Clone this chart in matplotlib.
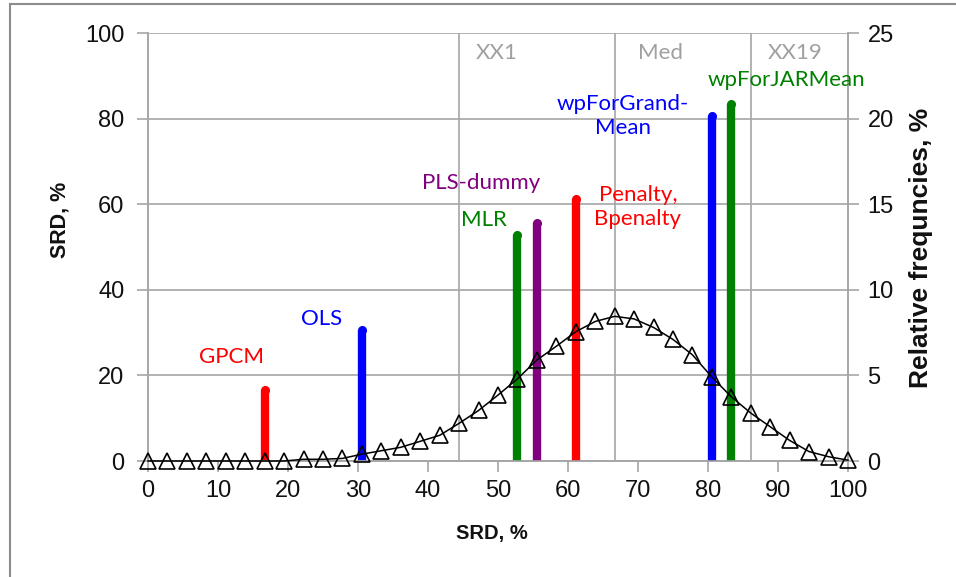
import matplotlib
matplotlib.use("Agg")
import matplotlib.pyplot as plt
from matplotlib.lines import Line2D

# ---------------- data ----------------
freq_x = [0.0, 2.78, 5.56, 8.33, 11.11, 13.89, 16.67, 19.44, 22.22, 25.0,
          27.78, 30.56, 33.33, 36.11, 38.89, 41.67, 44.44, 47.22, 50.0, 52.78,
          55.56, 58.33, 61.11, 63.89, 66.67, 69.44, 72.22, 75.0, 77.78, 80.56,
          83.33, 86.11, 88.89, 91.67, 94.44, 97.22, 100.0]
freq_y = [0, 0, 0, 0, 0, 0, 0, 0, 0.1, 0.1,
          0.15, 0.4, 0.6, 0.8, 1.15, 1.5, 2.2, 2.95, 3.85, 4.8,
          5.9, 6.7, 7.55, 8.15, 8.45, 8.3, 7.8, 7.1, 6.2, 4.9,
          3.75, 2.8, 2.0, 1.2, 0.55, 0.25, 0.05]

methods = ["GPCM", "OLS", "MLR", "PLS-dummy", "Penalty,\nBpenalty",
           "wpForGrand-\nMean", "wpForJARMean"]
method_srd = [16.67, 30.56, 52.78, 55.56, 61.11, 80.56, 83.33]
method_colors = ["#FF0000", "#0000FF", "#008000", "#800080", "#FF0000",
                 "#0000FF", "#008000"]

ref_names = ["XX1", "Med", "XX19"]
ref_srd = [44.44, 66.67, 86.11]

left_ticks = [0, 20, 40, 60, 80, 100]
right_ticks = [0, 5, 10, 15, 20, 25]
x_ticks = [0, 10, 20, 30, 40, 50, 60, 70, 80, 90, 100]

# ---------------- figure ----------------
W, H = 956, 577
fig = plt.figure(figsize=(W / 100, H / 100), dpi=100)

def fx(px):
    return px / W

def fy(py):
    return 1 - py / H

L, R, T, B = 148, 848, 33, 461
ax = fig.add_axes([fx(L), fy(B), fx(R) - fx(L), fy(T) - fy(B)])
ax2 = ax.twinx()

grid_c = "#A6A6A6"
tick_c = "#111111"
arial = ["Liberation Sans", "DejaVu Sans"]
lab_font = ["Lato", "DejaVu Sans"]

ax.set_xlim(0, 100)
ax.set_ylim(0, 100)
ax2.set_ylim(0, 25)

# horizontal gridlines
for v in left_ticks:
    ax.axhline(v, color=grid_c, lw=1.2, zorder=1)
# vertical reference lines
for v in ref_srd:
    ax.axvline(v, color=grid_c, lw=1.2, zorder=1)

ax.spines["top"].set_visible(False)
ax2.spines["top"].set_visible(False)
for a in (ax, ax2):
    for sp in ["left", "right", "bottom"]:
        a.spines[sp].set_color(grid_c)
        a.spines[sp].set_linewidth(1.2)

ax.set_xticks(x_ticks)
ax.set_yticks(left_ticks)
ax2.set_yticks(right_ticks)
ax.tick_params(axis="x", direction="out", length=8, width=1.2, color=grid_c,
               labelcolor=tick_c, labelsize=17, pad=6)
ax.tick_params(axis="y", direction="out", length=8, width=1.2, color=grid_c,
               labelcolor=tick_c, labelsize=17, pad=9)
ax2.tick_params(axis="y", direction="out", length=8, width=1.2, color=grid_c,
                labelcolor=tick_c, labelsize=17, pad=6)
for lab in ax.get_xticklabels() + ax.get_yticklabels() + ax2.get_yticklabels():
    lab.set_fontfamily(arial)

# method bars (drawn under the frequency curve)
for v, c in zip(method_srd, method_colors):
    ax.plot([v, v], [0, v], color=c, lw=6, solid_capstyle="butt", zorder=3)
    ax.plot([v], [v], marker="o", ms=5.5, color=c, mec=c, zorder=3)

# frequency curve
ax2.plot(freq_x, freq_y, color="black", lw=1.1, marker="^", ms=11,
         mfc="none", mec="black", mew=1.2, zorder=4, clip_on=False)

# method labels (positions in pixels near each bar)
label_px = [(232, 357), (322, 319), (484, 220), (481, 183), (638, 207),
            (623, 116), (786, 80)]
for name, c, (px, py) in zip(methods, method_colors, label_px):
    fig.text(fx(px), fy(py), name, color=c, ha="center", va="center",
             fontsize=16, family=lab_font, linespacing=1.3)

# reference labels
for name, v in zip(ref_names, [497, 661, 795]):
    fig.text(fx(v), fy(53), name, color="#A0A0A0", ha="center", va="center",
             fontsize=16, family=lab_font)

# axis titles
fig.text(fx(492), fy(533), "SRD, %", ha="center", va="center", fontsize=14.5,
         fontweight="bold", family=arial, color="#111111")
fig.text(fx(60), fy(220), "SRD, %", ha="center", va="center", fontsize=15.5,
         fontweight="bold", rotation=90, family=arial, color="#111111")
fig.text(fx(921), fy(248), "Relative frequncies, %", ha="center", va="center",
         fontsize=19, fontweight="bold", rotation=90, family=arial,
         color="#111111")

# outer frame of the embedded chart
fig.add_artist(Line2D([fx(10), fx(10)], [fy(4), 0], color="#8C8C8C", lw=1.5))
fig.add_artist(Line2D([fx(10), 1], [fy(4), fy(4)], color="#8C8C8C", lw=1.5))

fig.savefig("out.png", dpi=100)
